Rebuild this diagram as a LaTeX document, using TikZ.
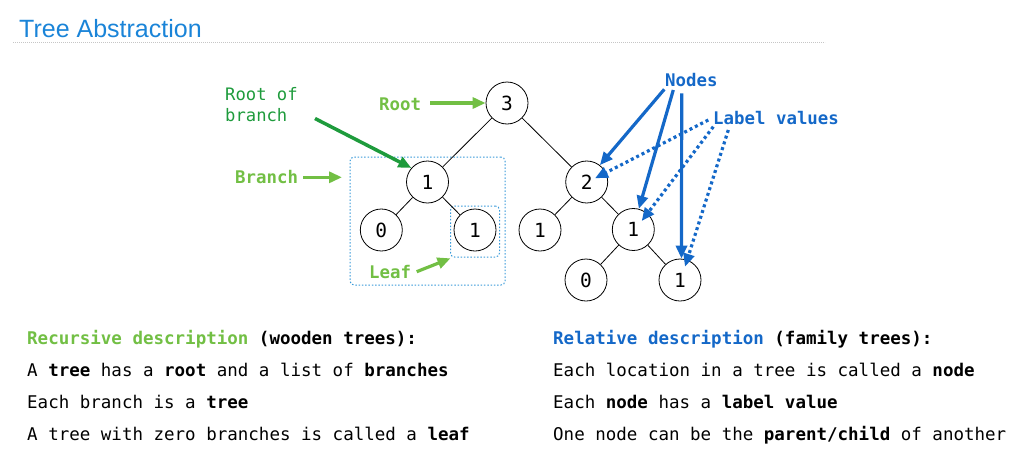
\documentclass[tikz,border=0pt]{standalone}
\usepackage{fontspec}
\setmainfont{Liberation Sans}
\setmonofont{DejaVu Sans Mono}
\usetikzlibrary{arrows.meta}
\definecolor{ttl}{HTML}{1A84D8}
\definecolor{lgreen}{HTML}{72BF44}
\definecolor{dgreen}{HTML}{1E9B3C}
\definecolor{nblue}{HTML}{1468C8}
\definecolor{bbox}{HTML}{3A9AD9}
\begin{document}
\begin{tikzpicture}[x=1pt,y=-1pt,
  tn/.style={circle,draw,line width=0.8pt,minimum size=42pt,inner sep=0pt,font=\ttfamily\fontsize{19.5}{19.5}\selectfont},
  edge/.style={line width=0.8pt},
  lbl/.style={font=\ttfamily\bfseries\fontsize{17.4}{21}\selectfont,inner sep=0pt},
  body/.style={font=\ttfamily\fontsize{17.5}{21}\selectfont,inner sep=0pt,anchor=base west},
  tip/.style={-{Triangle[length=13pt,width=11pt]}},
  garrow/.style={tip,line width=3.2pt,color=lgreen},
  darrow/.style={tip,line width=3.5pt,color=dgreen},
  barrow/.style={tip,line width=3.2pt,color=nblue},
  bdot/.style={tip,line width=3.2pt,color=nblue,dash pattern=on 3pt off 3pt},
  dbox/.style={draw=bbox,line width=1pt,dash pattern=on 1.5pt off 1.8pt,rounded corners=4pt,inner sep=0pt}
]
\useasboundingbox (0,0) rectangle (1020,458);
% title
\node[anchor=base west,inner sep=0pt,text=ttl,font=\fontsize{25}{25}\selectfont] (title) at (19,37) {Tree Abstraction};
\coordinate (hl1) at (13,42.5);
\coordinate (hl2) at (825,42.5);
\draw[gray!45,line width=0.8pt,dash pattern=on 0.8pt off 1.2pt] (hl1) -- (hl2);

% boxes
\node[dbox,minimum width=155pt,minimum height=128pt] (bbx) at (427.5,221) {};
\node[dbox,minimum width=49pt,minimum height=51pt] (lbx) at (475,231.5) {};

% tree nodes
\node[tn] (n3) at (507,103) {3};
\node[tn] (n1) at (427.5,182) {1};
\node[tn] (n0) at (381.3,230) {0};
\node[tn] (nl) at (475,230) {1};
\node[tn] (n2) at (586.7,182) {2};
\node[tn] (na) at (540,230) {1};
\node[tn] (nm) at (633.3,229.5) {1};
\node[tn] (nb) at (586,280) {0};
\node[tn] (nr) at (680,280) {1};
\draw[edge] (n3) -- (n1);
\draw[edge] (n3) -- (n2);
\draw[edge] (n1) -- (n0);
\draw[edge] (n1) -- (nl);
\draw[edge] (n2) -- (na);
\draw[edge] (n2) -- (nm);
\draw[edge] (nm) -- (nb);
\draw[edge] (nm) -- (nr);

% left labels
\node[inner sep=0pt,anchor=south west,align=left,text=dgreen,font=\ttfamily\fontsize{17.2}{21}\selectfont] (rob) at (225,121.7) {Root of\\branch};
\node[lbl,anchor=base west,text=lgreen] (root) at (379,110) {Root};
\node[lbl,anchor=base west,text=lgreen] (branch) at (235,183) {Branch};
\node[lbl,anchor=base west,text=lgreen] (leaf) at (369,278) {Leaf};

\coordinate (robs) at (315,118.5);
\draw[darrow] (robs) -- (n1.139);
\coordinate (roots) at (430,103);
\draw[garrow] (roots) -- (n3.west);
\coordinate (brs) at (303,177.3);
\coordinate (bre) at (342,177.3);
\draw[garrow] (brs) -- (bre);
\coordinate (lfs) at (416.7,271.7);
\coordinate (lfe) at (450.5,258.3);
\draw[garrow] (lfs) -- (lfe);

% right labels
\node[lbl,anchor=base west,text=nblue] (nodes) at (665,86) {Nodes};
\node[lbl,anchor=base west,text=nblue] (lv) at (713,124.5) {Label values};

\coordinate (ns1) at (664.3,89.3);
\coordinate (ns2) at (673.3,90);
\coordinate (ns3) at (681.7,93.3);
\draw[barrow] (ns1) -- (n2.52);
\draw[barrow] (ns2) -- (nm.75);
\draw[barrow] (ns3) -- (nr.86);

\coordinate (ls1) at (708.3,120);
\coordinate (ls2) at (713.3,126.7);
\coordinate (ls3) at (728.3,130);
\coordinate (le1) at (595,178.3);
\coordinate (le2) at (641.7,221);
\coordinate (le3) at (685,266.7);
\draw[bdot] (ls1) -- (le1);
\draw[bdot] (ls2) -- (le2);
\draw[bdot] (ls3) -- (le3);

% bottom text
\node[body] (r1) at (27,344.5) {\textbf{\textcolor{lgreen}{Recursive description} (wooden trees):}};
\node[body] (r2) at (27,376.5) {A \textbf{tree} has a \textbf{root} and a list of \textbf{branches}};
\node[body] (r3) at (27,408.5) {Each branch is a \textbf{tree}};
\node[body] (r4) at (27,440.5) {A tree with zero branches is called a \textbf{leaf}};
\node[body] (s1) at (553,344.5) {\textbf{\textcolor{nblue}{Relative description} (family trees):}};
\node[body] (s2) at (553,376.5) {Each location in a tree is called a \textbf{node}};
\node[body] (s3) at (553,408.5) {Each \textbf{node} has a \textbf{label value}};
\node[body] (s4) at (553,440.5) {One node can be the \textbf{parent/child} of another};
\end{tikzpicture}
\end{document}
